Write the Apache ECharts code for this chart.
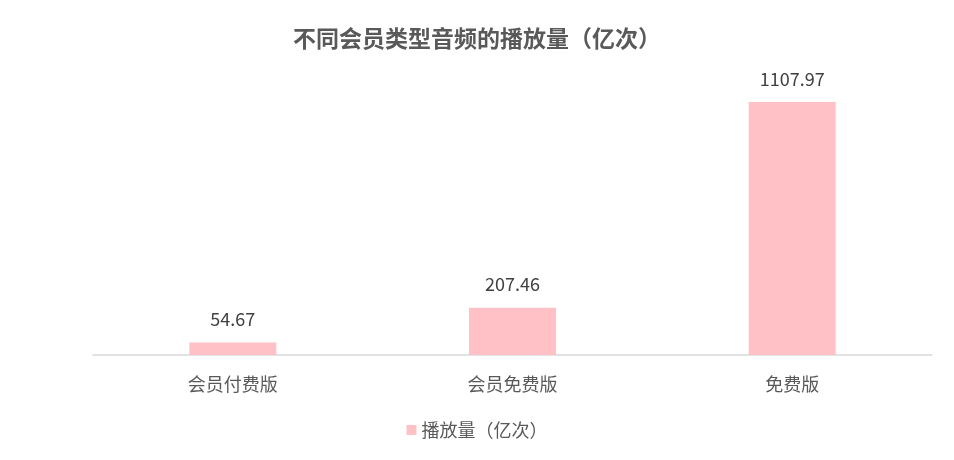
<!DOCTYPE html>
<html><head><meta charset="utf-8">
<script src="https://cdn.jsdelivr.net/npm/echarts@6/dist/echarts.min.js"></script>
<style>html,body{margin:0;padding:0;background:#fff}#c{width:954px;height:460px}</style>
</head><body><div id="c"></div>
<script>
const categories = ['会员付费版', '会员免费版', '免费版'];
const seriesName = '播放量（亿次）';
const values = [54.67, 207.46, 1107.97];
const titleText = '不同会员类型音频的播放量（亿次）';

const chart = echarts.init(document.getElementById('c'));
chart.setOption({
  animation: false,
  textStyle: { fontFamily: '"Noto Sans CJK SC", "Microsoft YaHei", sans-serif' },
  title: {
    text: titleText, left: 'center', top: 22,
    textStyle: { fontSize: 23, fontWeight: 'bold', color: '#595959', fontFamily: '"Noto Sans CJK SC", sans-serif' }
  },
  legend: {
    data: [seriesName], bottom: 16, left: 'center',
    icon: 'rect', itemWidth: 10, itemHeight: 10, itemGap: 6,
    textStyle: { fontSize: 18, color: '#595959' }
  },
  grid: { left: 93, right: 22, top: 81, bottom: 105, containLabel: false },
  xAxis: {
    type: 'category', data: categories,
    axisLine: { lineStyle: { color: '#D9D9D9', width: 1.5 } },
    axisTick: { show: false },
    axisLabel: { fontSize: 18, color: '#595959', margin: 20 }
  },
  yAxis: { type: 'value', min: 0, max: 1200, show: false, splitLine: { show: false } },
  series: [{
    name: seriesName, type: 'bar', data: values, barWidth: 87,
    itemStyle: { color: '#FFC0C6' },
    label: { show: true, position: 'top', distance: 14, fontSize: 18, color: '#404040',
      formatter: p => p.value.toFixed(2) }
  }]
});
</script></body></html>
